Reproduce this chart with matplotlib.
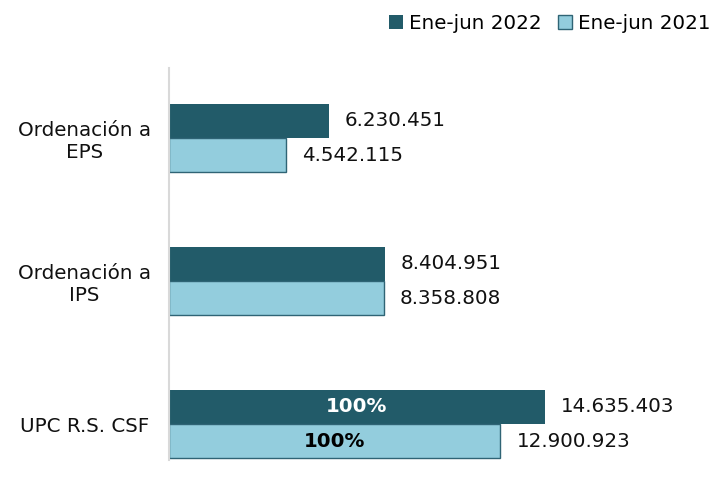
import matplotlib
matplotlib.use("Agg")
import matplotlib.pyplot as plt
import numpy as np

DARK = "#225B69"
LIGHT = "#93CDDD"
EDGE = "#2F6475"

cats = ["Ordenación a\nEPS", "Ordenación a\nIPS", "UPC R.S. CSF"]
v2022 = [6230451, 8404951, 14635403]
v2021 = [4542115, 8358808, 12900923]
inner = {2: "100%"}

def fmt(v):
    return f"{v:,}".replace(",", ".")

plt.rcParams.update({"font.family": "DejaVu Sans", "font.size": 14.3})

fig = plt.figure(figsize=(7.13, 4.87), dpi=100)
ax = fig.add_axes([169/713, 27/487, (705-169)/713, 392/487])

y = np.arange(len(cats))
h = 0.238
b1 = ax.barh(y - h/2, v2022, h, color=DARK, label="Ene-jun 2022")
b2 = ax.barh(y + h/2, v2021, h, color=LIGHT, edgecolor=EDGE, linewidth=1.0,
             label="Ene-jun 2021")

off = 14635403 / 376 * 16
for bars, vals in ((b1, v2022), (b2, v2021)):
    for b, v in zip(bars, vals):
        ax.text(v + off, b.get_y() + b.get_height()/2, fmt(v),
                va="center", ha="left", color="#111111")

for i, t in inner.items():
    ax.text(v2022[i]/2, y[i] - h/2, t, color="white", fontweight="bold",
            ha="center", va="center")
    ax.text(v2021[i]/2, y[i] + h/2, t, color="black", fontweight="bold",
            ha="center", va="center")

ax.set_xlim(0, 14635403 / 376 * (705-169))
ax.set_ylim(2 + 36/143, -70/143)
ax.set_yticks(y)
ax.set_yticklabels(cats, ha="center", color="#111111")
ax.tick_params(axis="y", length=0, pad=61)
ax.set_xticks([])
for s in ["top", "right", "bottom"]:
    ax.spines[s].set_visible(False)
ax.spines["left"].set_color("#D9D9D9")
ax.spines["left"].set_linewidth(1.5)

ax.legend(loc="upper right", bbox_to_anchor=(728/713, 1 + 4/487), bbox_transform=fig.transFigure,
          ncol=2, frameon=False, handlelength=0.7, handleheight=0.7,
          handletextpad=0.3, columnspacing=0.8)

fig.savefig("out.png", dpi=100, facecolor="white")
